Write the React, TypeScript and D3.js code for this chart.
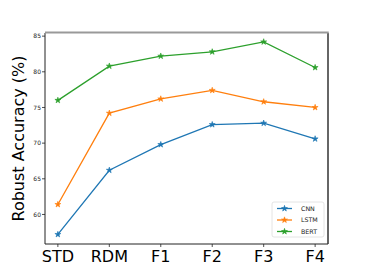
import React from "react";
import * as d3 from "d3";

const categories = ["STD", "RDM", "F1", "F2", "F3", "F4"];
const cnn = [57.2, 66.2, 69.8, 72.6, 72.8, 70.6];
const lstm = [61.4, 74.2, 76.2, 77.4, 75.8, 75.0];
const bert = [76.0, 80.8, 82.2, 82.8, 84.2, 80.6];
const seriesNames = ["CNN", "LSTM", "BERT"];
const colors = ["#1f77b4", "#ff7f0e", "#2ca02c"];
const yTicks = [60, 65, 70, 75, 80, 85];

const W = 365, H = 274;
const L = 45, R = 328, T = 33, B = 244;

export default function App() {
  const x = d3.scaleLinear().domain([-0.25, 5.25]).range([L, R]);
  const y = d3.scaleLinear().domain([55.86, 85.44]).range([B, T]);
  const all = [cnn, lstm, bert];
  const line = d3.line<number>().x((_, i) => x(i)).y((d) => y(d));
  const star = d3.symbol().type(d3.symbolStar).size(11)();
  const font = "DejaVu Sans, sans-serif";
  const legX = 272, legY = 202;
  return (
    <svg width={W} height={H} style={{ position: "absolute", left: 0, top: 0, background: "#fff" }}>
      {all.map((s, k) => (
        <g key={k}>
          <path d={line(s) || ""} fill="none" stroke={colors[k]} strokeWidth={1.3} />
          {s.map((v, i) => (
            <path key={i} d={star || ""} transform={`translate(${x(i)},${y(v)})`} fill={colors[k]} stroke={colors[k]} strokeWidth={0.6} />
          ))}
        </g>
      ))}
      {/* spines */}
      <line x1={L} x2={L} y1={T} y2={B} stroke="#222" strokeWidth={1} />
      <line x1={L} x2={R} y1={B} y2={B} stroke="#222" strokeWidth={1} />
      <line x1={R} x2={R} y1={T} y2={B} stroke="#333" strokeWidth={1.5} />
      <line x1={L} x2={R + 0.75} y1={T - 0.5} y2={T - 0.5} stroke="#999" strokeWidth={2} />
      {/* y ticks */}
      {yTicks.map((t) => (
        <g key={t}>
          <line x1={L - 3} x2={L} y1={y(t)} y2={y(t)} stroke="#222" strokeWidth={0.8} />
          <text x={L - 4} y={y(t)} dy="0.35em" textAnchor="end" fontFamily={font} fontSize={6} fill="#222">{t}</text>
        </g>
      ))}
      {/* x ticks */}
      {categories.map((c, i) => (
        <g key={c}>
          <line x1={x(i)} x2={x(i)} y1={B} y2={B + 3} stroke="#222" strokeWidth={0.8} />
          <text x={x(i)} y={262} textAnchor="middle" fontFamily={font} fontSize={16} fill="#000">{c}</text>
        </g>
      ))}
      <text transform={`translate(24,${(T + B) / 2}) rotate(-90)`} textAnchor="middle" fontFamily={font} fontSize={16} fill="#000">Robust Accuracy (%)</text>
      {/* legend */}
      <rect x={legX} y={legY} width={52} height={35} rx={2} fill="#fff" fillOpacity={0.8} stroke="#ddd" strokeWidth={0.8} />
      {seriesNames.map((n, k) => {
        const yy = legY + 6.5 + k * 11.5;
        return (
          <g key={n}>
            <line x1={legX + 5} x2={legX + 20} y1={yy} y2={yy} stroke={colors[k]} strokeWidth={1.3} />
            <path d={star || ""} transform={`translate(${legX + 12.5},${yy})`} fill={colors[k]} stroke={colors[k]} strokeWidth={0.6} />
            <text x={legX + 29} y={yy} dy="0.35em" fontFamily={font} fontSize={6.3} fill="#222">{n}</text>
          </g>
        );
      })}
    </svg>
  );
}
